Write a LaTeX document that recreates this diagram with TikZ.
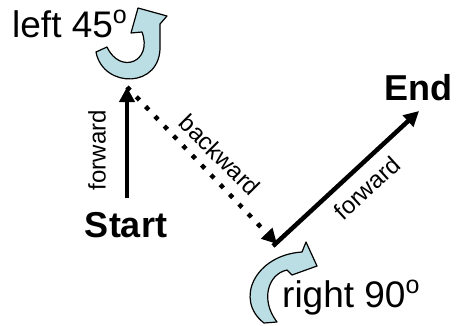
\documentclass[tikz,border=0pt]{standalone}
\usepackage{fontspec}
\setmainfont{Liberation Sans}
\usetikzlibrary{arrows.meta}
\definecolor{turnfill}{RGB}{186,222,227}
\newcommand\degsup{\raisebox{14pt}{\fontsize{25}{25}\selectfont o}}
\begin{document}
\begin{tikzpicture}[x=1pt,y=-1pt,
  big/.style={font=\fontsize{37}{40}\selectfont, inner sep=0pt},
  bigb/.style={font=\fontsize{36}{40}\selectfont\bfseries, inner sep=0pt},
  lab/.style={font=\fontsize{24}{28}\selectfont, inner sep=0pt},
  move/.style={line width=4.5pt, -{Triangle[length=15pt,width=15pt]}},
  dotmove/.style={move, dash pattern=on 4.5pt off 9pt},
  turnarrow/.style={fill=turnfill, draw=black, line width=1.2pt, line join=round},
]
\useasboundingbox (0,0) rectangle (457,325);
% texts
\node[bigb, anchor=base] (start) at (126,237) {Start};
\node[bigb, anchor=base] (end) at (418,100) {End};
\node[big, anchor=base west] (left) at (12,37) {left 45\degsup};
\node[big, anchor=base west] (right) at (282,307) {right 90\degsup};
% path points
\coordinate (a) at (127,198);
\coordinate (b) at (127,87);
\coordinate (c) at (277,244);
\coordinate (c2) at (273,246);
\coordinate (d) at (419,111);
\draw[move] (a) -- (b);
\draw[dotmove] (b) -- (c);
\draw[move] (c2) -- (d);
% labels
\node[lab, rotate=90] (f1) at (97,150) {forward};
\node[lab, rotate=-45] (bw) at (220,155) {backward};
\node[lab, rotate=42.5] (f2) at (367,188) {forward};
% turn arrows
\draw[turnarrow] (96,52) .. controls (103,89) and (162,89) .. (160,45) -- (160,24) -- (167,16) -- (138,8) -- (131,33) -- (142,32) .. controls (153,62) and (120,75) .. (107,47) -- cycle;
\draw[turnarrow] (264,323) .. controls (234,300) and (255,255) .. (302,252) -- (306,242) -- (317,266) -- (292,275) -- (287,270) .. controls (268,274) and (260,300) .. (277,322) -- cycle;
\end{tikzpicture}
\end{document}
